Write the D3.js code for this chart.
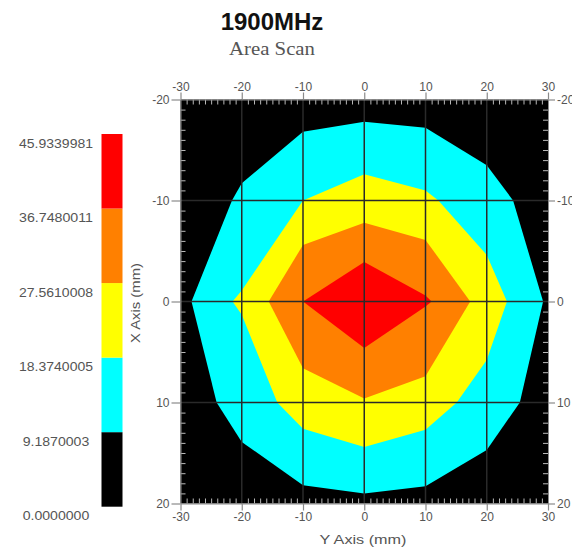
<!DOCTYPE html>
<html><head><meta charset="utf-8">
<script src="https://cdn.jsdelivr.net/npm/d3@7"></script>
<style>body{margin:0;background:#fff}svg{display:block}</style>
</head><body>
<svg id="chart" width="572" height="549"></svg>
<script>
// ---------- data ----------
const titleText = "1900MHz";
const subtitleText = "Area Scan";
const xAxisTitle = "Y Axis (mm)";
const yAxisTitle = "X Axis (mm)";
const levelValues = [0, 9.1870003, 18.3740005, 27.5610008, 36.7480011, 45.9339981];
const levelLabels = ["0.0000000", "9.1870003", "18.3740005", "27.5610008", "36.7480011", "45.9339981"];
const levelColors = ["#000000", "#00ffff", "#ffff00", "#ff8000", "#ff0000"];
const hTicks = [-30, -20, -10, 0, 10, 20, 30];
const vTicks = [-20, -10, 0, 10, 20];
// contour polygons: [Y axis mm (horizontal), X axis mm (vertical)]
const contour9 = [[0,-17.8],[10,-17.2],[20,-13.5],[24.3,-10],[29.2,0],[25.4,10],[20,14.7],[10,18.3],[0,19.0],[-10,18.2],[-20,13.9],[-24.1,10],[-28.2,0],[-21.6,-10],[-20,-11.7],[-10,-16.8]];
const contour18 = [[0,-12.6],[10,-11.0],[12.1,-10],[20,-4.6],[23.3,0],[20,5.8],[15.1,10],[10,12.7],[0,14.4],[-10,12.6],[-14.2,10],[-20,1.3],[-21.5,0],[-20,-1.1],[-10,-10]];
const contour27 = [[0,-7.8],[10,-6.1],[17.3,0],[10,7.4],[0,9.6],[-10,6.6],[-15.6,0],[-10,-5.6]];
const contour36 = [[0,-3.9],[10,-0.6],[11.0,0],[10,0.5],[0,4.6],[-10,0]];
const contours = [contour9, contour18, contour27, contour36];

// ---------- layout ----------
const svg = d3.select("#chart");
const x = d3.scaleLinear().domain([-30, 30]).range([180.5, 548]);
const y = d3.scaleLinear().domain([-20, 20]).range([99.5, 503.5]);
const fontSans = "Arial, 'Liberation Sans', sans-serif";

// title
svg.append("text").attr("x", 272).attr("y", 30).attr("text-anchor", "middle")
  .style("font-family", fontSans).style("font-weight", "bold").style("font-size", "24px")
  .attr("fill", "#111").text(titleText);
svg.append("text").attr("x", 272).attr("y", 55).attr("text-anchor", "middle")
  .style("font-family", "'Times New Roman', 'Liberation Serif', serif").style("font-size", "18px")
  .attr("fill", "#555").attr("textLength", 86).attr("lengthAdjust", "spacingAndGlyphs").text(subtitleText);

// plot background = lowest band
svg.append("rect").attr("x", x(-30)).attr("y", y(-20))
  .attr("width", x(30) - x(-30)).attr("height", y(20) - y(-20)).attr("fill", levelColors[0]);

svg.append("clipPath").attr("id", "plotclip").append("rect")
  .attr("x", x(-30)).attr("y", y(-20)).attr("width", x(30) - x(-30)).attr("height", y(20) - y(-20));

const line = d3.line().x(d => x(d[0])).y(d => y(d[1])).curve(d3.curveLinearClosed);
const gPlot = svg.append("g").attr("clip-path", "url(#plotclip)");
contours.forEach((poly, i) => {
  gPlot.append("path").attr("d", line(poly)).attr("fill", levelColors[i + 1]);
});

// grid lines
const gGrid = gPlot.append("g");
hTicks.slice(1, -1).forEach(t => {
  gGrid.append("line").attr("x1", x(t)).attr("x2", x(t)).attr("y1", y(-20)).attr("y2", y(20))
    .attr("stroke", "#2a2a2a").attr("stroke-width", 1.5);
});
vTicks.slice(1, -1).forEach(t => {
  gGrid.append("line").attr("y1", y(t)).attr("y2", y(t)).attr("x1", x(-30)).attr("x2", x(30))
    .attr("stroke", "#2a2a2a").attr("stroke-width", 1.5);
});

// minor ticks (inside, every 1 mm)
const hMinor = d3.range(-30, 31, 1).filter(d => d % 10 !== 0);
const vMinor = d3.range(-20, 21, 1).filter(d => d % 10 !== 0);
function styleMinor(g) {
  g.select(".domain").remove();
  g.selectAll(".tick line").attr("stroke", "#b8b8b8").attr("stroke-width", 1);
  g.selectAll(".tick text").remove();
}
svg.append("g").attr("transform", `translate(0,${y(-20)})`)
  .call(d3.axisTop(x).tickValues(hMinor).tickSize(-5).tickFormat("")).call(styleMinor);
svg.append("g").attr("transform", `translate(0,${y(20)})`)
  .call(d3.axisBottom(x).tickValues(hMinor).tickSize(-5).tickFormat("")).call(styleMinor);
svg.append("g").attr("transform", `translate(${x(-30)},0)`)
  .call(d3.axisLeft(y).tickValues(vMinor).tickSize(-5).tickFormat("")).call(styleMinor);
svg.append("g").attr("transform", `translate(${x(30)},0)`)
  .call(d3.axisRight(y).tickValues(vMinor).tickSize(-5).tickFormat("")).call(styleMinor);

// major axes
function styleMajor(g) {
  g.select(".domain").attr("stroke", "#8a8a8a");
  g.selectAll(".tick line").attr("stroke", "#8a8a8a").attr("stroke-width", 1.2);
  g.selectAll(".tick text").attr("fill", "#555").style("font-family", fontSans).style("font-size", "12px");
}
const fmt = d => String(d);
svg.append("g").attr("transform", `translate(0,${y(-20)})`)
  .call(d3.axisTop(x).tickValues(hTicks).tickSize(7).tickSizeOuter(0).tickPadding(2).tickFormat(fmt)).call(styleMajor);
svg.append("g").attr("transform", `translate(0,${y(20)})`)
  .call(d3.axisBottom(x).tickValues(hTicks).tickSize(7).tickSizeOuter(0).tickPadding(2).tickFormat(fmt)).call(styleMajor);
svg.append("g").attr("transform", `translate(${x(-30)},0)`)
  .call(d3.axisLeft(y).tickValues(vTicks).tickSize(9).tickSizeOuter(0).tickPadding(2).tickFormat(fmt)).call(styleMajor);
svg.append("g").attr("transform", `translate(${x(30)},0)`)
  .call(d3.axisRight(y).tickValues(vTicks).tickSize(7).tickSizeOuter(0).tickPadding(2).tickFormat(fmt)).call(styleMajor);

// axis titles
svg.append("text").attr("x", 363).attr("y", 544).attr("text-anchor", "middle")
  .style("font-family", fontSans).style("font-size", "13px").attr("fill", "#555")
  .attr("textLength", 87).attr("lengthAdjust", "spacingAndGlyphs").text(xAxisTitle);
svg.append("text").attr("transform", "translate(140,303) rotate(-90)").attr("text-anchor", "middle")
  .style("font-family", fontSans).style("font-size", "13px").attr("fill", "#555")
  .attr("textLength", 80).attr("lengthAdjust", "spacingAndGlyphs").text(yAxisTitle);

// legend colour bar
const lg = d3.scaleLinear().domain([levelValues[0], levelValues[levelValues.length - 1]]).range([506.7, 134]);
const bands = levelColors.map((c, i) => ({c, lo: levelValues[i], hi: levelValues[i + 1]}));
svg.append("g").selectAll("rect").data(bands).join("rect")
  .attr("x", 101.5).attr("width", 21)
  .attr("y", d => lg(d.hi)).attr("height", d => lg(d.lo) - lg(d.hi))
  .attr("fill", d => d.c);
svg.append("g").selectAll("text").data(levelValues).join("text")
  .attr("x", 56).attr("y", d => lg(d) + 13.5).attr("text-anchor", "middle")
  .style("font-family", fontSans).style("font-size", "12.5px").attr("fill", "#555")
  .attr("textLength", (d, i) => levelLabels[i].length * 7.4).attr("lengthAdjust", "spacingAndGlyphs")
  .text((d, i) => levelLabels[i]);
</script>
</body></html>
